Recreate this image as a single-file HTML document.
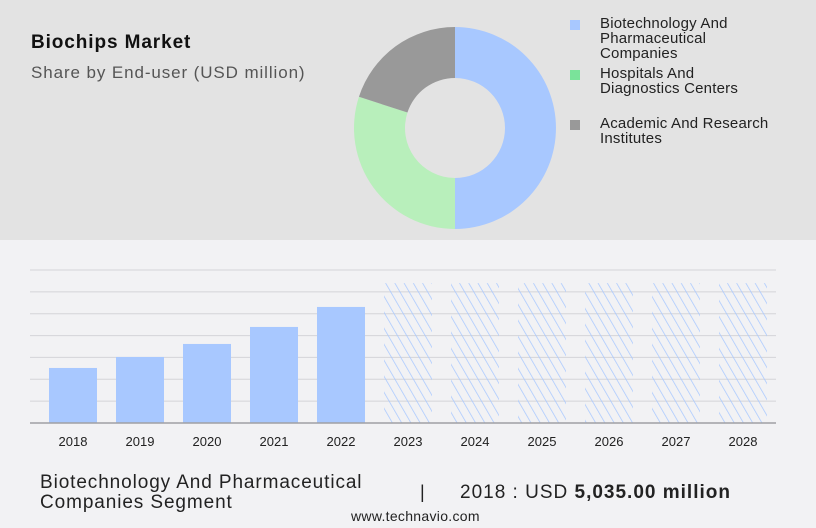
<!DOCTYPE html>
<html><head><meta charset="utf-8"><style>
body{margin:0;width:816px;height:528px;overflow:hidden;font-family:"Liberation Sans",sans-serif;background:#f2f2f4;position:relative}
.t{position:absolute;white-space:nowrap}
</style></head><body>
<div style="position:absolute;left:0;top:0;width:816px;height:240px;background:#e3e3e3"></div>
<div class="t" style="left:31px;top:32px;font-size:19px;font-weight:bold;color:#111;letter-spacing:0.9px">Biochips Market</div>
<div class="t" style="left:31px;top:63px;font-size:17px;color:#555;letter-spacing:0.9px">Share by End-user (USD million)</div>
<svg id="donut" width="816" height="240" style="position:absolute;left:0;top:0"></svg>
<div>
<div style="position:absolute;left:570px;top:20px;width:10px;height:10px;background:#a8c8ff"></div>
<div class="t" style="left:600px;top:16px;font-size:15px;line-height:15px;color:#222;letter-spacing:0.2px">Biotechnology And<br>Pharmaceutical<br>Companies</div>
<div style="position:absolute;left:570px;top:70px;width:10px;height:10px;background:#7ae39a"></div>
<div class="t" style="left:600px;top:66px;font-size:15px;line-height:15px;color:#222;letter-spacing:0.2px">Hospitals And<br>Diagnostics Centers</div>
<div style="position:absolute;left:570px;top:120px;width:10px;height:10px;background:#999"></div>
<div class="t" style="left:600px;top:116px;font-size:15px;line-height:15px;color:#222;letter-spacing:0.2px">Academic And Research<br>Institutes</div>
</div>
<svg id="bars" width="816" height="460" style="position:absolute;left:0;top:0">
<defs><pattern id="hatch" width="8" height="8" patternUnits="userSpaceOnUse" patternTransform="rotate(-30)"><line x1="0" y1="0" x2="0" y2="8" stroke="#a8c8ff" stroke-width="1.5"/></pattern></defs>
</svg>
<div class="t" style="left:40px;top:473px;font-size:19px;line-height:20px;color:#222;letter-spacing:0.9px">Biotechnology And Pharmaceutical<br>Companies Segment</div>
<div class="t" style="left:420px;top:482px;font-size:18px;color:#222">|</div>
<div class="t" style="left:460px;top:482px;font-size:19px;color:#222;letter-spacing:1px">2018 : USD <b>5,035.00 million</b></div>
<div class="t" style="left:351px;top:508px;font-size:14px;color:#222;letter-spacing:0.3px">www.technavio.com</div>
<script>
const NS="http://www.w3.org/2000/svg";
const segments=["Biotechnology And Pharmaceutical Companies","Hospitals And Diagnostics Centers","Academic And Research Institutes"];
const shares=[50,30,20];
const segColors=["#a8c8ff","#b8efbb","#999999"];
const years=["2018","2019","2020","2021","2022","2023","2024","2025","2026","2027","2028"];
const values=[5035,6042,7232,8789,10620,12800,12800,12800,12800,12800,12800];
const forecast=[false,false,false,false,false,true,true,true,true,true,true];
const yTicks=[0,2000,4000,6000,8000,10000,12000,14000];

const d=document.getElementById('donut');
const cx=455,cy=128,R=101,r=50;
let a=0;const tot=shares.reduce((s,v)=>s+v,0);
function pt(ang,rad){return [cx+rad*Math.sin(ang),cy-rad*Math.cos(ang)];}
shares.forEach((v,i)=>{
  const a0=a,a1=a+v/tot*2*Math.PI;a=a1;
  const lg=(a1-a0)>Math.PI?1:0;
  const [x0,y0]=pt(a0,R),[x1,y1]=pt(a1,R),[x2,y2]=pt(a1,r),[x3,y3]=pt(a0,r);
  const p=document.createElementNS(NS,'path');
  p.setAttribute('d',`M${x0},${y0}A${R},${R} 0 ${lg} 1 ${x1},${y1}L${x2},${y2}A${r},${r} 0 ${lg} 0 ${x3},${y3}Z`);
  p.setAttribute('fill',segColors[i]);
  
  
  d.appendChild(p);
});

const b=document.getElementById('bars');
const y0=423,y1=270,ymax=14000;
const yS=v=>y0-(v/ymax)*(y0-y1);
const xS=i=>49+i*67;
const bw=48;
yTicks.forEach(t=>{
  if(t===0)return;
  const l=document.createElementNS(NS,'line');
  l.setAttribute('x1',30);l.setAttribute('x2',776);l.setAttribute('y1',yS(t));l.setAttribute('y2',yS(t));
  l.setAttribute('stroke','#d4d4d8');l.setAttribute('stroke-width','1');
  
  
  b.appendChild(l);
});
values.forEach((v,i)=>{
  const rc=document.createElementNS(NS,'rect');
  rc.setAttribute('x',xS(i));rc.setAttribute('y',yS(v));rc.setAttribute('width',bw);rc.setAttribute('height',y0-yS(v));
  rc.setAttribute('fill',forecast[i]?'url(#hatch)':'#a8c8ff');
  
  
  b.appendChild(rc);
  const tx=document.createElementNS(NS,'text');
  tx.setAttribute('x',xS(i)+bw/2);tx.setAttribute('y',446);tx.setAttribute('text-anchor','middle');
  tx.setAttribute('font-size','13');tx.setAttribute('fill','#222');tx.setAttribute('font-family','Liberation Sans, sans-serif');
  tx.textContent=years[i];
  
  
  b.appendChild(tx);
});
const ax=document.createElementNS(NS,'line');
ax.setAttribute('x1',30);ax.setAttribute('x2',776);ax.setAttribute('y1',y0);ax.setAttribute('y2',y0);
ax.setAttribute('stroke','#a0a0a4');ax.setAttribute('stroke-width','1.5');


b.appendChild(ax);
</script>
</body></html>
